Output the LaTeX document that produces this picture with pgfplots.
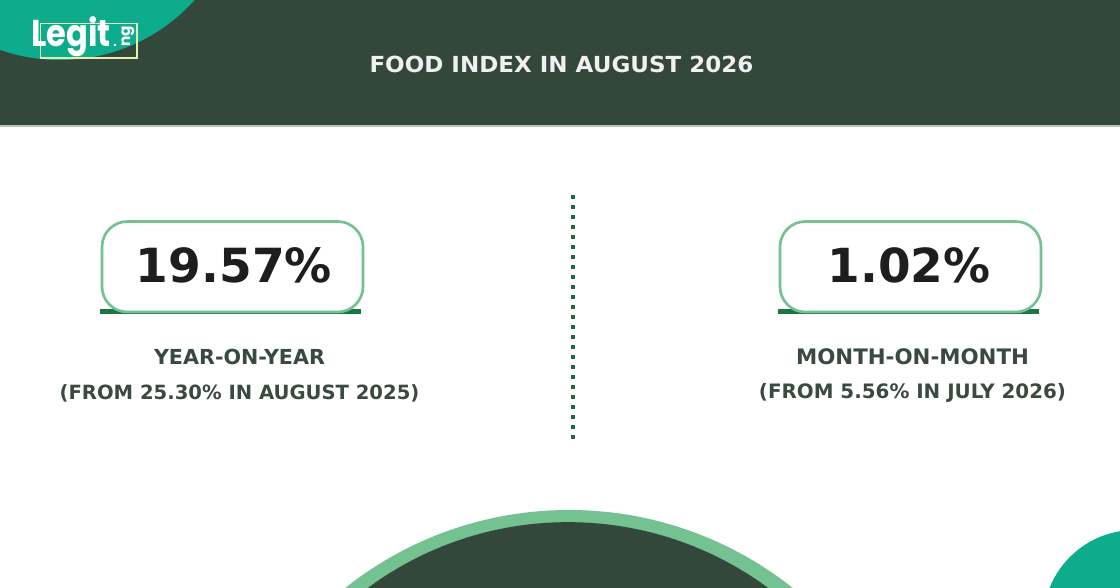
\documentclass[border=0pt]{standalone}
\usepackage{fontspec}
\setmainfont{DejaVu Sans}
\newfontfamily\logofont{Poppins}
\usepackage{pgfplots}
\pgfplotsset{compat=1.18}
\definecolor{dark}{HTML}{33473B}
\definecolor{teal2}{HTML}{0DAC8C}
\definecolor{lgreen}{HTML}{74C192}
\definecolor{ugreen}{HTML}{1B7544}
\definecolor{txt}{HTML}{3A4A40}
\definecolor{num}{HTML}{1E1E1E}
\definecolor{logoy}{HTML}{E6EFB0}
\begin{document}
\begin{tikzpicture}
\begin{axis}[
  scale only axis, width=840pt, height=441pt,
  xmin=0, xmax=1120, ymin=0, ymax=588, y dir=reverse,
  hide axis, clip=true
]
% header band
\addplot[draw=none, fill=dark] coordinates {(0,0) (1120,0) (1120,126) (0,126)} \closedcycle;
\addplot[draw=black!25, line width=0.8pt, forget plot] coordinates {(0,126) (1120,126)};
% corner shapes
\fill[teal2] (axis cs:60,-121) circle[radius=135.75pt];
\fill[teal2] (axis cs:1135,622) circle[radius=69pt];
% bottom dome
\fill[lgreen] (axis cs:569,870) circle[radius=270pt];
\fill[dark] (axis cs:568,859.5) circle[radius=253pt];
% logo
\draw[logoy, line width=0.9pt] (axis cs:40.5,23.5) rectangle (axis cs:137,58);
\node[anchor=base west, text=white, inner sep=0pt, xscale=0.86] at (axis cs:31,47)
  {\logofont\bfseries\fontsize{28}{28}\selectfont Legit};
\node[anchor=base west, text=white, inner sep=0pt, rotate=90] at (axis cs:130,47)
  {\logofont\bfseries\fontsize{11.5}{11.5}\selectfont ng};
\node[anchor=base west, text=white, inner sep=0pt] at (axis cs:113,47)
  {\logofont\bfseries\fontsize{9}{9}\selectfont .};
% title
\node[text=white!92!dark, inner sep=0pt, xscale=1.04] at (axis cs:561.5,64.5)
  {\bfseries\fontsize{16.6}{17}\selectfont FOOD INDEX IN AUGUST 2026};
% divider
\addplot[ugreen!70!dark, line width=3pt, dash pattern=on 3pt off 4.5pt, forget plot]
  coordinates {(573,195) (573,443)};
% left card
\addplot[ugreen, line width=3.4pt, forget plot] coordinates {(100,311.5) (361,311.5)};
\draw[lgreen, line width=2pt, fill=white, rounded corners=19pt] (axis cs:102,221.5) rectangle (axis cs:363,312);
\node[text=num, inner sep=0pt] at (axis cs:234,265.5)
  {\bfseries\fontsize{35.3}{36}\selectfont 19.57\%};
\node[text=txt, inner sep=0pt] at (axis cs:239.5,357)
  {\bfseries\fontsize{15.5}{16}\selectfont YEAR-ON-YEAR};
\node[text=txt, inner sep=0pt] at (axis cs:239.5,393)
  {\bfseries\fontsize{14.7}{16}\selectfont (FROM 25.30\% IN AUGUST 2025)};
% right card
\addplot[ugreen, line width=3.4pt, forget plot] coordinates {(778,311.5) (1039,311.5)};
\draw[lgreen, line width=2pt, fill=white, rounded corners=19pt] (axis cs:780,221.5) rectangle (axis cs:1041,312);
\node[text=num, inner sep=0pt] at (axis cs:909,265.5)
  {\bfseries\fontsize{35.2}{36}\selectfont 1.02\%};
\node[text=txt, inner sep=0pt] at (axis cs:912.5,357)
  {\bfseries\fontsize{16}{16}\selectfont MONTH-ON-MONTH};
\node[text=txt, inner sep=0pt] at (axis cs:912.5,393)
  {\bfseries\fontsize{14.9}{16}\selectfont (FROM 5.56\% IN JULY 2026)};
\end{axis}
\end{tikzpicture}
\end{document}
